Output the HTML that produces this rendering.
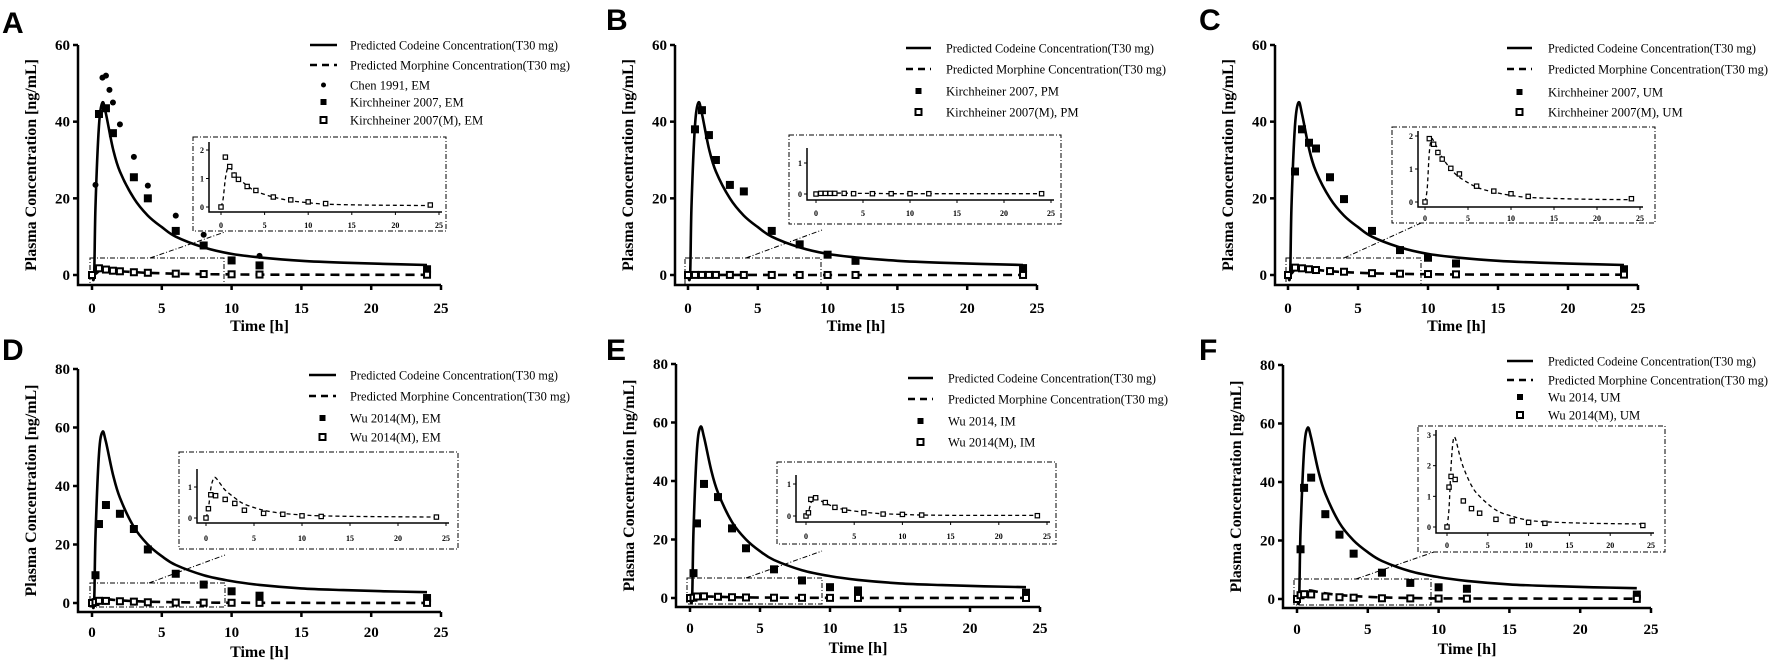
<!DOCTYPE html>
<html><head><meta charset="utf-8">
<style>
html,body{margin:0;padding:0;background:#fff;}
svg{display:block;}
text{font-family:"Liberation Serif",serif;fill:#000;}
.tk{font-weight:bold;font-size:15px;}
.itk{font-weight:bold;font-size:8px;}
.lg{font-size:12.6px;}
.ttl{font-weight:bold;font-size:16px;}
.let{font-family:"Liberation Sans",sans-serif;font-weight:bold;font-size:30px;}
</style></head>
<body>
<svg id="fig" width="1772" height="662" viewBox="0 0 1772 662" xmlns="http://www.w3.org/2000/svg"></svg>
<script>
// ---- data ----
const curveT = [0,0.15,0.25,0.5,0.75,1,1.5,2,3,4,5,6,8,10,12,15,18,21,24];
const codTop = [0,0,18,39,45,42,33,27,20,15.5,12.5,10,7.2,5.5,4.6,3.7,3.2,2.9,2.6];
const codBot = [0,0,23,51,58.5,55,44,36,26,20,16,13,9.5,7.5,6.2,5,4.4,4,3.7];
const morT = [0,0.25,0.5,0.75,1,1.5,2,3,4,6,8,10,12,16,20,24];
const morA = [0,0.3,1.0,1.35,1.4,1.2,1.0,0.75,0.55,0.35,0.22,0.15,0.1,0.07,0.06,0.05];
const morB = [0,0.01,0.03,0.04,0.04,0.04,0.03,0.03,0.02,0.02,0.01,0.01,0.01,0.01,0.01,0.01];
const morC = [0,0.4,1.5,1.9,1.85,1.6,1.35,1.0,0.75,0.45,0.3,0.2,0.14,0.1,0.08,0.07];
const morD = [0,0.3,0.95,1.25,1.3,1.1,0.9,0.65,0.45,0.25,0.15,0.1,0.07,0.05,0.04,0.03];
const morE = [0,0.12,0.4,0.55,0.56,0.48,0.4,0.28,0.2,0.12,0.07,0.05,0.03,0.02,0.02,0.02];
const morF = [0,0.6,2.0,2.8,2.9,2.4,1.95,1.35,1.0,0.55,0.35,0.22,0.17,0.13,0.11,0.1];

const chenT = [0.25,0.5,0.75,1,1.25,1.5,2,3,4,6,8,12];
const chenV = [23.5,42,51.5,52,48.3,45,39.3,30.8,23.3,15.5,10.5,5];
const kirT = [0,0.5,1,1.5,2,3,4,6,8,10,12,24];
const kirAT = [0,0.5,1,1.5,3,4,6,8,10,12,24];
const kirAV = [0,42,43.5,37,25.5,20,11.5,7.7,3.8,2.5,1.5];
const kirAM = [0,1.75,1.42,1.12,0.97,0.72,0.58,0.35,0.25,0.18,0.12,0.07];
const kirBV = [0,38,43,36.5,30,23.5,21.8,11.5,8,5.3,3.7,1.8];
const kirBM = [0,0.02,0.02,0.02,0.02,0.02,0.01,0.01,0.01,0.01,0.01,0.01];
const kirCV = [0,27,38,34.5,33,25.5,19.8,11.5,6.5,4.5,3,1.5];
const kirCM = [0,1.92,1.75,1.5,1.3,1.02,0.85,0.48,0.33,0.25,0.17,0.1];
const wuT = [0,0.25,0.5,1,2,3,4,6,8,10,12,24];
const wuDV = [0,9.5,27,33.5,30.5,25.3,18.3,10,6.3,4,2.5,1.7];
const wuDM = [0,0.3,0.75,0.72,0.6,0.47,0.25,0.15,0.12,0.07,0.05,0.03];
const wuEV = [0,8.5,25.5,39,34.5,23.8,17,9.8,6,3.7,2.6,1.8];
const wuEM = [0,0.1,0.52,0.57,0.42,0.27,0.18,0.1,0.06,0.05,0.03,0.01];
const wuFV = [0,17,38,41.5,29,22,15.5,9,5.5,4,3.5,1.5];
const wuFM = [0,1.3,1.65,1.55,0.85,0.6,0.45,0.25,0.2,0.15,0.12,0.05];
const xTicks = [0,5,10,15,20,25];
const yTicksTop = [0,20,40,60];
const yTicksBot = [0,20,40,60,80];

const NS = 'http://www.w3.org/2000/svg';
const svg = document.getElementById('fig');
function el(tag, attrs, parent, txt){
  const e = document.createElementNS(NS, tag);
  for (const k in attrs) e.setAttribute(k, attrs[k]);
  if (txt !== undefined) e.textContent = txt;
  (parent || svg).appendChild(e);
  return e;
}
function smooth(pts){
  let d = 'M' + pts[0][0].toFixed(1) + ',' + pts[0][1].toFixed(1);
  for (let i = 0; i < pts.length - 1; i++){
    const p0 = pts[Math.max(0,i-1)], p1 = pts[i], p2 = pts[i+1], p3 = pts[Math.min(pts.length-1,i+2)];
    const c1x = p1[0] + (p2[0]-p0[0])/6, c1y = p1[1] + (p2[1]-p0[1])/6;
    const c2x = p2[0] - (p3[0]-p1[0])/6, c2y = p2[1] - (p3[1]-p1[1])/6;
    d += ' C' + c1x.toFixed(1) + ',' + c1y.toFixed(1) + ' ' + c2x.toFixed(1) + ',' + c2y.toFixed(1) + ' ' + p2[0].toFixed(1) + ',' + p2[1].toFixed(1);
  }
  return d;
}
function marker(g, kind, x, y, size){
  let m;
  if (kind === 'circle') {
    m = el('circle', {cx:x, cy:y, r:size/2, fill:'#000'}, g);
  } else if (kind === 'fsq') {
    m = el('rect', {x:x-size/2, y:y-size/2, width:size, height:size, fill:'#000'}, g);
  } else {
    const sw = size > 6 ? 2 : 1.2;
    m = el('rect', {x:x-size/2+sw/2, y:y-size/2+sw/2, width:size-sw, height:size-sw, fill:'#fff', stroke:'#000', 'stroke-width':sw}, g);
  }
  return m;
}

const panels = [
 {id:'A', lx:2, ly:33, ax:78, x0:92, x25:441, y0:275, yTop:45, yMax:60, axY:285, yt:yTicksTop, tkY:313, ttlY:331,
  cod:codTop, mor:morA, series:[{k:'circle',t:chenT,v:chenV,n:'Chen 1991, EM'},{k:'fsq',t:kirAT,v:kirAV,n:'Kirchheiner 2007, EM'},{k:'osq',t:kirT,v:kirAM,n:'Kirchheiner 2007(M), EM',m:true}],
  leg:{lx1:310,lx2:337,tx:350,rows:[45,65,85,102,120]},
  ins:{box:[193,137,446,231], ya:209, axY:212, y0:207, yTop:150, yTopV:2, yEnd:142, x0:221, x25:439, lb:228, ticks:[0,1,2]},
  sb:[90,258,224,285], con:[150,258,225,232]},
 {id:'B', lx:606, ly:30, ax:675, x0:688, x25:1037, y0:275, yTop:45, yMax:60, axY:285, yt:yTicksTop, tkY:313, ttlY:331,
  cod:codTop, mor:morB, series:[{k:'fsq',t:kirT,v:kirBV,n:'Kirchheiner 2007, PM'},{k:'osq',t:kirT,v:kirBM,n:'Kirchheiner 2007(M), PM',m:true}],
  leg:{lx1:906,lx2:931,tx:946,rows:[48,69,91,112]},
  ins:{box:[789,135,1061,224], ya:807, axY:200, y0:194, yTop:163, yTopV:1, yEnd:148, x0:816, x25:1051, lb:216, ticks:[0,1]},
  sb:[685,258,821,285], con:[746,258,822,230]},
 {id:'C', lx:1199, ly:30, ax:1275, x0:1288, x25:1638, y0:275, yTop:45, yMax:60, axY:285, yt:yTicksTop, tkY:313, ttlY:331,
  cod:codTop, mor:morC, series:[{k:'fsq',t:kirT,v:kirCV,n:'Kirchheiner 2007, UM'},{k:'osq',t:kirT,v:kirCM,n:'Kirchheiner 2007(M), UM',m:true}],
  leg:{lx1:1507,lx2:1532,tx:1548,rows:[48,69,92,112]},
  ins:{box:[1392,127,1655,223], ya:1418, axY:207, y0:202, yTop:136, yTopV:2, yEnd:131, x0:1425, x25:1640, lb:221, ticks:[0,1,2]},
  sb:[1286,258,1421,285], con:[1344,258,1421,223]},
 {id:'D', lx:2, ly:360, ax:78, x0:92, x25:441, y0:603, yTop:369, yMax:80, axY:612, yt:yTicksBot, tkY:637, ttlY:657,
  cod:codBot, mor:morD, series:[{k:'fsq',t:wuT,v:wuDV,n:'Wu 2014(M), EM'},{k:'osq',t:wuT,v:wuDM,n:'Wu 2014(M), EM',m:true}],
  leg:{lx1:309,lx2:336,tx:350,rows:[375,396,418,437]},
  ins:{box:[179,452,458,549], ya:197, axY:523, y0:518, yTop:487, yTopV:1, yEnd:469, x0:206, x25:446, lb:541, ticks:[0,1]},
  sb:[90,583,225,607], con:[149,583,225,555]},
 {id:'E', lx:606, ly:360, ax:676, x0:690, x25:1040, y0:598, yTop:364, yMax:80, axY:607, yt:yTicksBot, tkY:633, ttlY:653,
  cod:codBot, mor:morE, series:[{k:'fsq',t:wuT,v:wuEV,n:'Wu 2014, IM'},{k:'osq',t:wuT,v:wuEM,n:'Wu 2014(M), IM',m:true}],
  leg:{lx1:908,lx2:933,tx:948,rows:[378,399,421,442]},
  ins:{box:[777,462,1056,544], ya:796, axY:522, y0:516, yTop:484, yTopV:1, yEnd:475, x0:806, x25:1047, lb:539, ticks:[0,1]},
  sb:[687,578,822,604], con:[746,578,822,551]},
 {id:'F', lx:1199, ly:360, ax:1283, x0:1297, x25:1651, y0:599, yTop:365, yMax:80, axY:608, yt:yTicksBot, tkY:634, ttlY:654,
  cod:codBot, mor:morF, series:[{k:'fsq',t:wuT,v:wuFV,n:'Wu 2014, UM'},{k:'osq',t:wuT,v:wuFM,n:'Wu 2014(M), UM',m:true}],
  leg:{lx1:1507,lx2:1533,tx:1548,rows:[361,380,397,415]},
  ins:{box:[1418,426,1665,552], ya:1436, axY:533, y0:527, yTop:435, yTopV:3, yEnd:430, x0:1447, x25:1651, lb:548, ticks:[0,1,2,3]},
  sb:[1294,579,1431,605], con:[1356,579,1434,552]}
];

panels.forEach(P => {
  const g = el('g', {});
  
  
  const X = t => P.x0 + (P.x25 - P.x0) * t / 25;
  const Y = v => P.y0 - (P.y0 - P.yTop) * v / P.yMax;

  const L = el('text', {x:P.lx, y:P.ly, class:'let'}, g, P.id);
  
  

  const axes = el('g', {stroke:'#000', 'stroke-width':2.5, fill:'none'}, g);
  
  
  el('path', {d:`M${P.ax},${P.yTop} V${P.axY} H${P.x25}`}, axes);
  P.yt.forEach(v => {
    el('line', {x1:P.ax-5, x2:P.ax, y1:Y(v), y2:Y(v)}, axes);
    const t = el('text', {x:P.ax-8, y:Y(v)+5, 'text-anchor':'end', class:'tk'}, g, String(v));
    
    
  });
  xTicks.forEach(v => {
    el('line', {x1:X(v), x2:X(v), y1:P.axY, y2:P.axY+5}, axes);
    const t = el('text', {x:X(v), y:P.tkY, 'text-anchor':'middle', class:'tk'}, g, String(v));
    
    
  });
  const yt = el('text', {x:0, y:0, class:'ttl', 'text-anchor':'middle', textLength:212, lengthAdjust:'spacingAndGlyphs',
    transform:`translate(${P.ax-42},${(P.yTop+P.axY)/2}) rotate(-90)`}, g, 'Plasma Concentration [ng/mL]');
  
  
  const xt = el('text', {x:(P.ax+P.x25)/2, y:P.ttlY, class:'ttl', 'text-anchor':'middle'}, g, 'Time [h]');
  
  

  const sb = el('rect', {x:P.sb[0], y:P.sb[1], width:P.sb[2]-P.sb[0], height:P.sb[3]-P.sb[1], fill:'none', stroke:'#000', 'stroke-width':1, 'stroke-dasharray':'5,2,1,2'}, g);
  
  
  const cn = el('line', {x1:P.con[0], y1:P.con[1], x2:P.con[2], y2:P.con[3], stroke:'#000', 'stroke-width':1, 'stroke-dasharray':'5,2,1,2'}, g);
  
  

  const cp = el('path', {d:smooth(curveT.map((t,i)=>[X(t),Y(P.cod[i])])), fill:'none', stroke:'#000', 'stroke-width':2.6}, g);
  
  
  const mp = el('path', {d:smooth(morT.map((t,i)=>[X(t),Y(P.mor[i])])), fill:'none', stroke:'#000', 'stroke-width':2.6, 'stroke-dasharray':'9,6'}, g);
  
  

  P.series.forEach(s => {
    const sg = el('g', {}, g);
    
    
    s.t.forEach((t,i) => {
      const m = marker(sg, s.k, X(t), Y(s.v[i]), s.k === 'circle' ? 6 : 8);
      
      
    });
  });

  const lg = el('g', {}, g);
  
  
  const names = ['Predicted Codeine Concentration(T30 mg)', 'Predicted Morphine Concentration(T30 mg)'].concat(P.series.map(s=>s.n));
  names.forEach((n,i) => {
    const y = P.leg.rows[i];
    const cx = (P.leg.lx1 + P.leg.lx2)/2;
    if (i === 0) el('line', {x1:P.leg.lx1, x2:P.leg.lx2, y1:y, y2:y, stroke:'#000', 'stroke-width':2.6}, lg);
    else if (i === 1) el('line', {x1:P.leg.lx1, x2:P.leg.lx2, y1:y, y2:y, stroke:'#000', 'stroke-width':2.6, 'stroke-dasharray':'7,5'}, lg);
    else { const s = P.series[i-2]; marker(lg, s.k, cx, y, s.k === 'circle' ? 5 : (s.k==='fsq'?6:8)); }
    const attrs = {x:P.leg.tx, y:y+4.5, class:'lg'};
    if (i === 0) { attrs.textLength = 208; attrs.lengthAdjust = 'spacingAndGlyphs'; }
    if (i === 1) { attrs.textLength = 220; attrs.lengthAdjust = 'spacingAndGlyphs'; }
    const t = el('text', attrs, lg, n);
    
    
  });

  const I = P.ins;
  const ig = el('g', {}, g);
  
  
  el('rect', {x:I.box[0], y:I.box[1], width:I.box[2]-I.box[0], height:I.box[3]-I.box[1], fill:'#fff', stroke:'#000', 'stroke-width':1, 'stroke-dasharray':'5,2,1,2'}, ig);
  const IX = t => I.x0 + (I.x25 - I.x0) * t / 25;
  const IY = v => I.y0 - (I.y0 - I.yTop) * v / I.yTopV;
  el('path', {d:`M${I.ya},${I.yEnd} V${I.axY} H${I.x25+3}`, fill:'none', stroke:'#000', 'stroke-width':1.5}, ig);
  I.ticks.forEach(v => {
    el('line', {x1:I.ya-3, x2:I.ya, y1:IY(v), y2:IY(v), stroke:'#000', 'stroke-width':1}, ig);
    const t = el('text', {x:I.ya-5, y:IY(v)+3, 'text-anchor':'end', class:'itk'}, ig, String(v));
    
    
  });
  xTicks.forEach(v => {
    el('line', {x1:IX(v), x2:IX(v), y1:I.axY, y2:I.axY+3, stroke:'#000', 'stroke-width':1}, ig);
    const t = el('text', {x:IX(v), y:I.lb, 'text-anchor':'middle', class:'itk'}, ig, String(v));
    
    
  });
  const im = el('path', {d:smooth(morT.map((t,i)=>[IX(t),IY(P.mor[i])])), fill:'none', stroke:'#000', 'stroke-width':1.3, 'stroke-dasharray':'4,3'}, ig);
  
  
  P.series.filter(s=>s.m).forEach(s => {
    s.t.forEach((t,i) => {
      const m = marker(ig, 'osq', IX(t), IY(s.v[i]), 5.5);
      
      
    });
  });
});
</script>
</body></html>
